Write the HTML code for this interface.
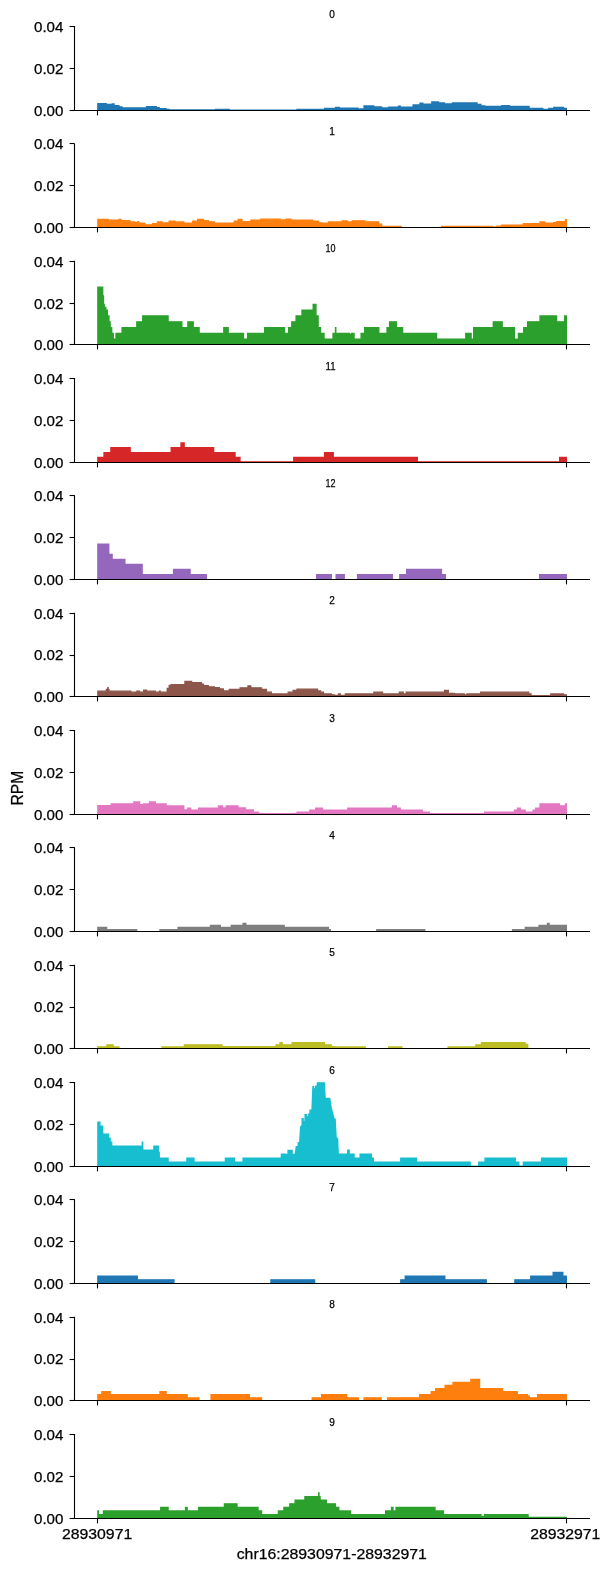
<!DOCTYPE html>
<html><head><meta charset="utf-8"><title>RPM tracks</title>
<style>html,body{margin:0;padding:0;background:#fff}svg{display:block}text{font-family:"Liberation Sans",sans-serif;fill:#000;stroke:#000;stroke-width:0.25px}</style></head><body><div style="width:611px;height:1571px;will-change:transform">
<svg width="611" height="1571" viewBox="0 0 611 1571">
<rect width="611" height="1571" fill="#fff"/>
<clipPath id="c0"><rect x="74" y="25.6" width="517" height="84.7"/></clipPath>
<path clip-path="url(#c0)" d="M97.9,110.3L97.9,103.6L106.18,103.6L106.18,104.4L112.29,104.4L112.29,104L114.04,104L114.04,105.6L118.95,105.6L118.95,107L121.9,107L121.9,108L146.66,108L146.66,106.8L156.27,106.8L156.27,107.8L159.21,107.8L159.21,108.8L166.09,108.8L166.09,109.5L169.03,109.5L169.03,109.9L215.6,109.9L215.6,109.4L229.13,109.4L229.13,110.2L297.11,110.2L297.11,109.4L324.6,109.4L324.6,108.4L335.6,108.4L335.6,107.5L339.31,107.5L339.31,108.1L357.97,108.1L357.97,109L364.08,109L364.08,105.9L373.68,105.9L373.68,106.9L381.54,106.9L381.54,107.9L388.63,107.9L388.63,107.1L398.45,107.1L398.45,106.1L400.19,106.1L400.19,107.1L413.18,107.1L413.18,104.9L420.05,104.9L420.05,103.1L422.78,103.1L422.78,104.1L431.84,104.1L431.84,102L438.49,102L438.49,102.9L444.38,102.9L444.38,103.9L452.46,103.9L452.46,102.9L476.99,102.9L476.99,104.5L480.91,104.5L480.91,106L484.84,106L484.84,106.5L501.75,106.5L501.75,105.7L509.39,105.7L509.39,106.5L529.03,106.5L529.03,108.4L542.78,108.4L542.78,109.4L548.89,109.4L548.89,108.4L553.8,108.4L553.8,107.5L563.4,107.5L563.4,108.5L566.3,108.5L566.3,110.3Z" fill="#1f77b4" stroke="#1f77b4" stroke-width="1.39"/>
<path d="M74.5,26.6V110.5H589.45" fill="none" stroke="#000" stroke-width="1.1" stroke-linecap="square"/>
<path d="M69.6,110.5H74.5" stroke="#000" stroke-width="1.1"/>
<text x="63.4" y="115.5" font-size="14.3" text-anchor="end" textLength="29.4" lengthAdjust="spacingAndGlyphs">0.00</text>
<path d="M69.6,68.5H74.5" stroke="#000" stroke-width="1.1"/>
<text x="63.4" y="73.5" font-size="14.3" text-anchor="end" textLength="29.4" lengthAdjust="spacingAndGlyphs">0.02</text>
<path d="M69.6,26.5H74.5" stroke="#000" stroke-width="1.1"/>
<text x="63.4" y="31.5" font-size="14.3" text-anchor="end" textLength="29.4" lengthAdjust="spacingAndGlyphs">0.04</text>
<path d="M97.5,110.5V115.4" stroke="#000" stroke-width="1.1"/>
<path d="M566.5,110.5V115.4" stroke="#000" stroke-width="1.1"/>
<text x="332.0" y="17.6" font-size="11.4" text-anchor="middle" textLength="5.6" lengthAdjust="spacingAndGlyphs">0</text>
<clipPath id="c1"><rect x="74" y="142.93" width="517" height="84.7"/></clipPath>
<path clip-path="url(#c1)" d="M97.9,227.63L97.9,219.33L108.15,219.33L108.15,220.23L119.17,220.23L119.17,219.33L120.91,219.33L120.91,220.63L129.75,220.63L129.75,222.03L134.66,222.03L134.66,222.63L137.83,222.63L137.83,221.63L138.59,221.63L138.59,223.23L144.48,223.23L144.48,224.83L152.56,224.83L152.56,223.63L157.47,223.63L157.47,222.03L162.16,222.03L162.16,223.03L169.25,223.03L169.25,221.23L174.92,221.23L174.92,222.03L183.76,222.03L183.76,223.23L192.82,223.23L192.82,221.23L197.73,221.23L197.73,219.33L203.4,219.33L203.4,220.63L208.31,220.63L208.31,222.03L214.4,222.03L214.4,223.23L234.26,223.23L234.26,221.23L238.19,221.23L238.19,219.33L241.9,219.33L241.9,221.63L250.95,221.63L250.95,220.23L260.77,220.23L260.77,219.13L280.19,219.13L280.19,220.03L286.3,220.03L286.3,219.13L291,219.13L291,220.23L312.6,220.23L312.6,221.23L318.49,221.23L318.49,222.83L321.44,222.83L321.44,223.23L328.53,223.23L328.53,222.03L342.47,222.03L342.47,221.03L347.17,221.03L347.17,222.03L352.29,222.03L352.29,220.83L364.84,220.83L364.84,221.83L378.59,221.83L378.59,224.13L381.54,224.13L381.54,226.33L401.18,226.33L401.18,227.63L441.66,227.63L441.66,226.33L492.7,226.33L492.7,227.13L496.84,227.13L496.84,226.13L501.75,226.13L501.75,225.23L523.36,225.23L523.36,223.63L540.05,223.63L540.05,222.03L544.74,222.03L544.74,223.23L553.8,223.23L553.8,222.63L556.75,222.63L556.75,221.63L565.58,221.63L565.58,219.73L566.3,219.73L566.3,227.63Z" fill="#ff7f0e" stroke="#ff7f0e" stroke-width="1.39"/>
<path d="M74.5,143.93V227.5H589.45" fill="none" stroke="#000" stroke-width="1.1" stroke-linecap="square"/>
<path d="M69.6,227.5H74.5" stroke="#000" stroke-width="1.1"/>
<text x="63.4" y="232.5" font-size="14.3" text-anchor="end" textLength="29.4" lengthAdjust="spacingAndGlyphs">0.00</text>
<path d="M69.6,185.5H74.5" stroke="#000" stroke-width="1.1"/>
<text x="63.4" y="190.5" font-size="14.3" text-anchor="end" textLength="29.4" lengthAdjust="spacingAndGlyphs">0.02</text>
<path d="M69.6,143.5H74.5" stroke="#000" stroke-width="1.1"/>
<text x="63.4" y="148.5" font-size="14.3" text-anchor="end" textLength="29.4" lengthAdjust="spacingAndGlyphs">0.04</text>
<path d="M97.5,227.5V232.4" stroke="#000" stroke-width="1.1"/>
<path d="M566.5,227.5V232.4" stroke="#000" stroke-width="1.1"/>
<text x="332.0" y="134.93" font-size="11.4" text-anchor="middle" textLength="5.6" lengthAdjust="spacingAndGlyphs">1</text>
<clipPath id="c2"><rect x="74" y="260.26" width="517" height="84.7"/></clipPath>
<path clip-path="url(#c2)" d="M97.9,344.96L97.9,287.16L102.65,287.16L102.65,295.83L103.43,295.83L103.43,304.5L104.22,304.5L104.22,307.39L105.79,307.39L105.79,310.28L107.36,310.28L107.36,316.06L108.93,316.06L108.93,321.84L110.11,321.84L110.11,327.62L111.68,327.62L111.68,333.4L113.25,333.4L113.25,339.18L116.03,339.18L116.03,333.4L122.11,333.4L122.11,327.62L136.84,327.62L136.84,321.84L142.74,321.84L142.74,316.06L168.05,316.06L168.05,321.84L181.8,321.84L181.8,327.62L187.91,327.62L187.91,321.84L193.19,321.84L193.19,327.62L199.08,327.62L199.08,333.4L223.85,333.4L223.85,327.62L228.15,327.62L228.15,333.4L243.47,333.4L243.47,339.18L247.61,339.18L247.61,333.4L264.7,333.4L264.7,327.62L284.51,327.62L284.51,333.4L288.66,333.4L288.66,327.62L291.8,327.62L291.8,321.84L296.12,321.84L296.12,316.06L302.02,316.06L302.02,310.28L313.21,310.28L313.21,304.5L315.94,304.5L315.94,316.06L318.1,316.06L318.1,327.62L320.46,327.62L320.46,333.4L323.99,333.4L323.99,339.18L333.05,339.18L333.05,333.4L335.54,333.4L335.54,327.62L335.79,327.62L335.79,333.4L349.52,333.4L349.52,334.56L351.7,334.56L351.7,333.4L354.04,333.4L354.04,339.18L361.13,339.18L361.13,333.4L364.67,333.4L364.67,327.62L378.79,327.62L378.79,333.4L387.06,333.4L387.06,327.62L389.61,327.62L389.61,321.84L396.27,321.84L396.27,327.62L402.55,327.62L402.55,333.4L436.53,333.4L436.53,339.18L465.81,339.18L465.81,333.4L471.09,333.4L471.09,339.18L473.67,339.18L473.67,327.62L493.31,327.62L493.31,321.84L502.13,321.84L502.13,327.62L514.3,327.62L514.3,339.18L518.45,339.18L518.45,333.4L523.75,333.4L523.75,327.62L527.68,327.62L527.68,321.84L540.05,321.84L540.05,316.06L556.53,316.06L556.53,321.84L564.6,321.84L564.6,316.06L566.3,316.06L566.3,344.96Z" fill="#2ca02c" stroke="#2ca02c" stroke-width="1.39"/>
<path d="M74.5,261.26V344.5H589.45" fill="none" stroke="#000" stroke-width="1.1" stroke-linecap="square"/>
<path d="M69.6,344.5H74.5" stroke="#000" stroke-width="1.1"/>
<text x="63.4" y="349.5" font-size="14.3" text-anchor="end" textLength="29.4" lengthAdjust="spacingAndGlyphs">0.00</text>
<path d="M69.6,303.5H74.5" stroke="#000" stroke-width="1.1"/>
<text x="63.4" y="308.5" font-size="14.3" text-anchor="end" textLength="29.4" lengthAdjust="spacingAndGlyphs">0.02</text>
<path d="M69.6,261.5H74.5" stroke="#000" stroke-width="1.1"/>
<text x="63.4" y="266.5" font-size="14.3" text-anchor="end" textLength="29.4" lengthAdjust="spacingAndGlyphs">0.04</text>
<path d="M97.5,344.5V349.4" stroke="#000" stroke-width="1.1"/>
<path d="M566.5,344.5V349.4" stroke="#000" stroke-width="1.1"/>
<text x="330.6" y="252.26" font-size="11.4" text-anchor="middle" textLength="10.0" lengthAdjust="spacingAndGlyphs">10</text>
<clipPath id="c3"><rect x="74" y="377.59" width="517" height="84.7"/></clipPath>
<path clip-path="url(#c3)" d="M97.9,462.29L97.9,457.44L104.05,457.44L104.05,452.59L110.92,452.59L110.92,447.74L130.14,447.74L130.14,452.59L171.21,452.59L171.21,447.74L181.03,447.74L181.03,442.89L184.15,442.89L184.15,447.74L213.61,447.74L213.61,452.59L235.02,452.59L235.02,457.44L239.93,457.44L239.93,461.84L293.77,461.84L293.77,457.44L324.6,457.44L324.6,452.59L333.22,452.59L333.22,457.44L417.28,457.44L417.28,461.84L559.69,461.84L559.69,457.44L566.3,457.44L566.3,462.29Z" fill="#d62728" stroke="#d62728" stroke-width="1.39"/>
<path d="M74.5,378.59V462.5H589.45" fill="none" stroke="#000" stroke-width="1.1" stroke-linecap="square"/>
<path d="M69.6,462.5H74.5" stroke="#000" stroke-width="1.1"/>
<text x="63.4" y="467.5" font-size="14.3" text-anchor="end" textLength="29.4" lengthAdjust="spacingAndGlyphs">0.00</text>
<path d="M69.6,420.5H74.5" stroke="#000" stroke-width="1.1"/>
<text x="63.4" y="425.5" font-size="14.3" text-anchor="end" textLength="29.4" lengthAdjust="spacingAndGlyphs">0.02</text>
<path d="M69.6,378.5H74.5" stroke="#000" stroke-width="1.1"/>
<text x="63.4" y="383.5" font-size="14.3" text-anchor="end" textLength="29.4" lengthAdjust="spacingAndGlyphs">0.04</text>
<path d="M97.5,462.5V467.4" stroke="#000" stroke-width="1.1"/>
<path d="M566.5,462.5V467.4" stroke="#000" stroke-width="1.1"/>
<text x="330.6" y="369.59" font-size="11.4" text-anchor="middle" textLength="10.0" lengthAdjust="spacingAndGlyphs">11</text>
<clipPath id="c4"><rect x="74" y="494.92" width="517" height="84.7"/></clipPath>
<path clip-path="url(#c4)" d="M97.9,579.62L97.9,544.27L108.74,544.27L108.74,554.37L112.08,554.37L112.08,559.42L124.84,559.42L124.84,564.47L142.13,564.47L142.13,574.57L173.57,574.57L173.57,569.52L190.05,569.52L190.05,574.57L206.35,574.57L206.35,579.62L316.75,579.62L316.75,574.57L331.26,574.57L331.26,579.62L336.19,579.62L336.19,574.57L344.22,574.57L344.22,579.62L357.6,579.62L357.6,574.57L392.34,574.57L392.34,579.62L399.82,579.62L399.82,574.57L406.7,574.57L406.7,569.52L441.44,569.52L441.44,574.57L445.37,574.57L445.37,579.62L539.66,579.62L539.66,574.57L566.3,574.57L566.3,579.62Z" fill="#9467bd" stroke="#9467bd" stroke-width="1.39"/>
<path d="M74.5,495.92V579.5H589.45" fill="none" stroke="#000" stroke-width="1.1" stroke-linecap="square"/>
<path d="M69.6,579.5H74.5" stroke="#000" stroke-width="1.1"/>
<text x="63.4" y="584.5" font-size="14.3" text-anchor="end" textLength="29.4" lengthAdjust="spacingAndGlyphs">0.00</text>
<path d="M69.6,537.5H74.5" stroke="#000" stroke-width="1.1"/>
<text x="63.4" y="542.5" font-size="14.3" text-anchor="end" textLength="29.4" lengthAdjust="spacingAndGlyphs">0.02</text>
<path d="M69.6,495.5H74.5" stroke="#000" stroke-width="1.1"/>
<text x="63.4" y="500.5" font-size="14.3" text-anchor="end" textLength="29.4" lengthAdjust="spacingAndGlyphs">0.04</text>
<path d="M97.5,579.5V584.4" stroke="#000" stroke-width="1.1"/>
<path d="M566.5,579.5V584.4" stroke="#000" stroke-width="1.1"/>
<text x="330.6" y="486.92" font-size="11.4" text-anchor="middle" textLength="10.0" lengthAdjust="spacingAndGlyphs">12</text>
<clipPath id="c5"><rect x="74" y="612.25" width="517" height="84.7"/></clipPath>
<path clip-path="url(#c5)" d="M97.9,696.95L97.9,691.15L106.4,691.15L106.4,689.45L107.78,689.45L107.78,687.65L108.03,687.65L108.03,689.45L108.93,689.45L108.93,691.15L130.73,691.15L130.73,692.15L136.84,692.15L136.84,691.15L139.57,691.15L139.57,692.15L143.72,692.15L143.72,690.15L146.45,690.15L146.45,691.15L155.28,691.15L155.28,692.15L159.43,692.15L159.43,691.15L160.19,691.15L160.19,692.15L167.29,692.15L167.29,688.45L169.25,688.45L169.25,685.45L171.21,685.45L171.21,684.65L184.96,684.65L184.96,681.35L191.62,681.35L191.62,682.75L201.44,682.75L201.44,684.25L203.4,684.25L203.4,685.65L208.31,685.65L208.31,687.05L214.4,687.05L214.4,687.65L219.31,687.65L219.31,689.05L223.24,689.05L223.24,690.95L229.35,690.95L229.35,689.55L240.15,689.55L240.15,687.85L248.01,687.85L248.01,686.05L250.73,686.05L250.73,687.85L261.54,687.85L261.54,689.55L266.45,689.55L266.45,692.15L271.36,692.15L271.36,693.95L288.27,693.95L288.27,692.15L293.18,692.15L293.18,690.55L297.11,690.55L297.11,689.15L317.51,689.15L317.51,690.95L320.46,690.95L320.46,692.15L323.4,692.15L323.4,693.95L331.26,693.95L331.26,694.85L334.4,694.85L334.4,695.45L338.55,695.45L338.55,693.95L340.29,693.95L340.29,695.45L345.42,695.45L345.42,693.95L373.9,693.95L373.9,692.15L382.52,692.15L382.52,693.95L399.43,693.95L399.43,692.15L403.14,692.15L403.14,693.95L406.3,693.95L406.3,692.15L444.6,692.15L444.6,690.55L448.31,690.55L448.31,693.55L454.4,693.55L454.4,693.95L464.22,693.95L464.22,694.85L466.99,694.85L466.99,693.95L480.74,693.95L480.74,692.15L528.64,692.15L528.64,693.95L531,693.95L531,695.65L550.85,695.65L550.85,693.95L563.4,693.95L563.4,694.85L566.3,694.85L566.3,696.95Z" fill="#8c564b" stroke="#8c564b" stroke-width="1.39"/>
<path d="M74.5,613.25V696.5H589.45" fill="none" stroke="#000" stroke-width="1.1" stroke-linecap="square"/>
<path d="M69.6,696.5H74.5" stroke="#000" stroke-width="1.1"/>
<text x="63.4" y="701.5" font-size="14.3" text-anchor="end" textLength="29.4" lengthAdjust="spacingAndGlyphs">0.00</text>
<path d="M69.6,655.5H74.5" stroke="#000" stroke-width="1.1"/>
<text x="63.4" y="659.5" font-size="14.3" text-anchor="end" textLength="29.4" lengthAdjust="spacingAndGlyphs">0.02</text>
<path d="M69.6,613.5H74.5" stroke="#000" stroke-width="1.1"/>
<text x="63.4" y="618.5" font-size="14.3" text-anchor="end" textLength="29.4" lengthAdjust="spacingAndGlyphs">0.04</text>
<path d="M97.5,696.5V701.4" stroke="#000" stroke-width="1.1"/>
<path d="M566.5,696.5V701.4" stroke="#000" stroke-width="1.1"/>
<text x="332.0" y="604.25" font-size="11.4" text-anchor="middle" textLength="5.6" lengthAdjust="spacingAndGlyphs">2</text>
<clipPath id="c6"><rect x="74" y="729.58" width="517" height="84.7"/></clipPath>
<path clip-path="url(#c6)" d="M97.9,814.28L97.9,805.78L111.31,805.78L111.31,803.98L133.9,803.98L133.9,801.98L139.57,801.98L139.57,804.78L143.72,804.78L143.72,803.98L149.61,803.98L149.61,801.98L155.28,801.98L155.28,803.98L166.09,803.98L166.09,805.98L183.76,805.98L183.76,809.88L187.91,809.88L187.91,808.28L190.64,808.28L190.64,810.28L198.71,810.28L198.71,808.28L218.55,808.28L218.55,805.98L222.26,805.98L222.26,807.88L226.4,807.88L226.4,805.98L237.97,805.98L237.97,807.88L245.43,807.88L245.43,809.88L253.29,809.88L253.29,812.18L258.59,812.18L258.59,813.78L297.11,813.78L297.11,812.18L309.87,812.18L309.87,810.28L315.76,810.28L315.76,808.28L322.42,808.28L322.42,810.28L347.78,810.28L347.78,808.28L392.56,808.28L392.56,805.98L396.27,805.98L396.27,808.28L400.19,808.28L400.19,810.28L422.39,810.28L422.39,812.18L429.26,812.18L429.26,813.78L484.67,813.78L484.67,812.18L514.52,812.18L514.52,810.28L517.47,810.28L517.47,808.28L520.19,808.28L520.19,810.28L525.1,810.28L525.1,812.18L533.18,812.18L533.18,810.28L535.73,810.28L535.73,808.28L540.05,808.28L540.05,803.98L559.47,803.98L559.47,805.98L565.58,805.98L565.58,803.98L566.3,803.98L566.3,814.28Z" fill="#e377c2" stroke="#e377c2" stroke-width="1.39"/>
<path d="M74.5,730.58V814.5H589.45" fill="none" stroke="#000" stroke-width="1.1" stroke-linecap="square"/>
<path d="M69.6,814.5H74.5" stroke="#000" stroke-width="1.1"/>
<text x="63.4" y="819.5" font-size="14.3" text-anchor="end" textLength="29.4" lengthAdjust="spacingAndGlyphs">0.00</text>
<path d="M69.6,772.5H74.5" stroke="#000" stroke-width="1.1"/>
<text x="63.4" y="777.5" font-size="14.3" text-anchor="end" textLength="29.4" lengthAdjust="spacingAndGlyphs">0.02</text>
<path d="M69.6,730.5H74.5" stroke="#000" stroke-width="1.1"/>
<text x="63.4" y="735.5" font-size="14.3" text-anchor="end" textLength="29.4" lengthAdjust="spacingAndGlyphs">0.04</text>
<path d="M97.5,814.5V819.4" stroke="#000" stroke-width="1.1"/>
<path d="M566.5,814.5V819.4" stroke="#000" stroke-width="1.1"/>
<text x="332.0" y="721.58" font-size="11.4" text-anchor="middle" textLength="5.6" lengthAdjust="spacingAndGlyphs">3</text>
<clipPath id="c7"><rect x="74" y="846.91" width="517" height="84.7"/></clipPath>
<path clip-path="url(#c7)" d="M97.9,931.61L97.9,927.55L106.58,927.55L106.58,929.58L136.63,929.58L136.63,931.61L160.02,931.61L160.02,929.58L178.09,929.58L178.09,927.55L210.49,927.55L210.49,925.52L220.29,925.52L220.29,927.55L231.31,927.55L231.31,925.52L243.1,925.52L243.1,923.49L245.82,923.49L245.82,925.52L284.12,925.52L284.12,927.55L328.31,927.55L328.31,929.58L330.28,929.58L330.28,931.61L376.84,931.61L376.84,929.58L424.74,929.58L424.74,931.61L512.56,931.61L512.56,929.58L525.32,929.58L525.32,927.55L539.07,927.55L539.07,925.52L547.51,925.52L547.51,923.49L549.06,923.49L549.06,925.52L566.3,925.52L566.3,931.61Z" fill="#7f7f7f" stroke="#7f7f7f" stroke-width="1.39"/>
<path d="M74.5,847.91V931.5H589.45" fill="none" stroke="#000" stroke-width="1.1" stroke-linecap="square"/>
<path d="M69.6,931.5H74.5" stroke="#000" stroke-width="1.1"/>
<text x="63.4" y="936.5" font-size="14.3" text-anchor="end" textLength="29.4" lengthAdjust="spacingAndGlyphs">0.00</text>
<path d="M69.6,889.5H74.5" stroke="#000" stroke-width="1.1"/>
<text x="63.4" y="894.5" font-size="14.3" text-anchor="end" textLength="29.4" lengthAdjust="spacingAndGlyphs">0.02</text>
<path d="M69.6,847.5H74.5" stroke="#000" stroke-width="1.1"/>
<text x="63.4" y="852.5" font-size="14.3" text-anchor="end" textLength="29.4" lengthAdjust="spacingAndGlyphs">0.04</text>
<path d="M97.5,931.5V936.4" stroke="#000" stroke-width="1.1"/>
<path d="M566.5,931.5V936.4" stroke="#000" stroke-width="1.1"/>
<text x="332.0" y="838.91" font-size="11.4" text-anchor="middle" textLength="5.6" lengthAdjust="spacingAndGlyphs">4</text>
<clipPath id="c8"><rect x="74" y="964.24" width="517" height="84.7"/></clipPath>
<path clip-path="url(#c8)" d="M97.9,1048.94L97.9,1046.89L106.99,1046.89L106.99,1044.84L113.06,1044.84L113.06,1046.89L118.95,1046.89L118.95,1048.94L161.98,1048.94L161.98,1046.89L184.37,1046.89L184.37,1044.84L221.86,1044.84L221.86,1046.68L276.09,1046.68L276.09,1044.84L280.02,1044.84L280.02,1042.79L282.16,1042.79L282.16,1044.84L292.2,1044.84L292.2,1042.79L324.38,1042.79L324.38,1044.84L331.26,1044.84L331.26,1046.68L334.4,1046.68L334.4,1046.89L365.23,1046.89L365.23,1048.94L388.63,1048.94L388.63,1046.89L401.76,1046.89L401.76,1048.94L448.14,1048.94L448.14,1046.89L475.83,1046.89L475.83,1044.84L481.52,1044.84L481.52,1042.59L525.1,1042.59L525.1,1044.43L527.66,1044.43L527.66,1048.94L566.3,1048.94L566.3,1048.94Z" fill="#bcbd22" stroke="#bcbd22" stroke-width="1.39"/>
<path d="M74.5,965.24V1048.5H589.45" fill="none" stroke="#000" stroke-width="1.1" stroke-linecap="square"/>
<path d="M69.6,1048.5H74.5" stroke="#000" stroke-width="1.1"/>
<text x="63.4" y="1053.5" font-size="14.3" text-anchor="end" textLength="29.4" lengthAdjust="spacingAndGlyphs">0.00</text>
<path d="M69.6,1007.5H74.5" stroke="#000" stroke-width="1.1"/>
<text x="63.4" y="1011.5" font-size="14.3" text-anchor="end" textLength="29.4" lengthAdjust="spacingAndGlyphs">0.02</text>
<path d="M69.6,965.5H74.5" stroke="#000" stroke-width="1.1"/>
<text x="63.4" y="970.5" font-size="14.3" text-anchor="end" textLength="29.4" lengthAdjust="spacingAndGlyphs">0.04</text>
<path d="M97.5,1048.5V1053.4" stroke="#000" stroke-width="1.1"/>
<path d="M566.5,1048.5V1053.4" stroke="#000" stroke-width="1.1"/>
<text x="332.0" y="956.24" font-size="11.4" text-anchor="middle" textLength="5.6" lengthAdjust="spacingAndGlyphs">5</text>
<clipPath id="c9"><rect x="74" y="1081.57" width="517" height="84.7"/></clipPath>
<path clip-path="url(#c9)" d="M97.9,1166.27L97.9,1122.27L99.9,1122.27L99.9,1126.27L102.65,1126.27L102.65,1134.27L108.54,1134.27L108.54,1138.27L110.11,1138.27L110.11,1142.27L111.68,1142.27L111.68,1146.27L142.34,1146.27L142.34,1142.27L142.71,1142.27L142.71,1150.27L153.93,1150.27L153.93,1146.27L158.23,1146.27L158.23,1152.27L159.21,1152.27L159.21,1158.27L168.05,1158.27L168.05,1162.27L186.93,1162.27L186.93,1158.27L193.97,1158.27L193.97,1162.27L225.42,1162.27L225.42,1158.27L234.43,1158.27L234.43,1162.27L243.1,1162.27L243.1,1158.27L281.39,1158.27L281.39,1154.27L285,1154.27L285,1154.37L288.1,1154.37L288.1,1150.47L292.1,1150.47L292.1,1154.37L295.3,1154.37L296.3,1146.57L298.3,1146.57L298.3,1142.57L299.7,1142.57L300.7,1126.87L302.2,1125.37L302.2,1118.77L303.7,1118.77L303.7,1121.97L304.6,1121.97L304.6,1114.77L307.1,1114.77L307.1,1117.57L308.1,1117.57L308.1,1114.07L310,1114.07L310,1110.17L312,1110.17L313,1086.57L314,1086.57L314,1089.57L315,1089.57L315,1086.17L317.4,1086.17L317.4,1082.87L324.3,1082.87L325.1,1098.37L329.7,1098.37L331.2,1108.27L333.1,1115.07L334.1,1119.07L335.1,1119.07L336.1,1137.67L337.6,1138.67L338.2,1154.37L338.2,1154.27L347.78,1154.27L347.78,1150.27L349.13,1150.27L349.13,1154.27L354.04,1154.27L354.04,1158.27L360.15,1158.27L360.15,1154.27L371.32,1154.27L371.32,1158.27L373.29,1158.27L373.29,1162.27L400.8,1162.27L400.8,1158.27L416.49,1158.27L416.49,1162.27L470.11,1162.27L470.11,1166.27L478.78,1166.27L478.78,1162.27L485.06,1162.27L485.06,1158.27L515.28,1158.27L515.28,1162.27L518.82,1162.27L518.82,1166.27L523.36,1166.27L523.36,1162.27L541.62,1162.27L541.62,1158.27L566.3,1158.27L566.3,1166.27Z" fill="#17becf" stroke="#17becf" stroke-width="1.39"/>
<path d="M304.15,1120.77V1113.77" stroke="#fff" stroke-width="0.7" fill="none"/>
<path d="M307.6,1116.27V1113.27" stroke="#fff" stroke-width="0.7" fill="none"/>
<path d="M314.5,1088.27V1085.27" stroke="#fff" stroke-width="0.7" fill="none"/>
<path d="M74.5,1082.57V1166.5H589.45" fill="none" stroke="#000" stroke-width="1.1" stroke-linecap="square"/>
<path d="M69.6,1166.5H74.5" stroke="#000" stroke-width="1.1"/>
<text x="63.4" y="1171.5" font-size="14.3" text-anchor="end" textLength="29.4" lengthAdjust="spacingAndGlyphs">0.00</text>
<path d="M69.6,1124.5H74.5" stroke="#000" stroke-width="1.1"/>
<text x="63.4" y="1129.5" font-size="14.3" text-anchor="end" textLength="29.4" lengthAdjust="spacingAndGlyphs">0.02</text>
<path d="M69.6,1082.5H74.5" stroke="#000" stroke-width="1.1"/>
<text x="63.4" y="1087.5" font-size="14.3" text-anchor="end" textLength="29.4" lengthAdjust="spacingAndGlyphs">0.04</text>
<path d="M97.5,1166.5V1171.4" stroke="#000" stroke-width="1.1"/>
<path d="M566.5,1166.5V1171.4" stroke="#000" stroke-width="1.1"/>
<text x="332.0" y="1073.57" font-size="11.4" text-anchor="middle" textLength="5.6" lengthAdjust="spacingAndGlyphs">6</text>
<clipPath id="c10"><rect x="74" y="1198.9" width="517" height="84.7"/></clipPath>
<path clip-path="url(#c10)" d="M97.9,1283.6L97.9,1276.1L137.22,1276.1L137.22,1279.85L173.94,1279.85L173.94,1283.6L270.98,1283.6L270.98,1279.85L314.56,1279.85L314.56,1283.6L400.8,1283.6L400.8,1279.85L405.32,1279.85L405.32,1276.1L444.78,1276.1L444.78,1279.85L486.22,1279.85L486.22,1283.6L514.91,1283.6L514.91,1279.85L530.82,1279.85L530.82,1276.1L553.21,1276.1L553.21,1272.35L562.81,1272.35L562.81,1276.1L566.3,1276.1L566.3,1283.6Z" fill="#1f77b4" stroke="#1f77b4" stroke-width="1.39"/>
<path d="M74.5,1199.9V1283.5H589.45" fill="none" stroke="#000" stroke-width="1.1" stroke-linecap="square"/>
<path d="M69.6,1283.5H74.5" stroke="#000" stroke-width="1.1"/>
<text x="63.4" y="1288.5" font-size="14.3" text-anchor="end" textLength="29.4" lengthAdjust="spacingAndGlyphs">0.00</text>
<path d="M69.6,1241.5H74.5" stroke="#000" stroke-width="1.1"/>
<text x="63.4" y="1246.5" font-size="14.3" text-anchor="end" textLength="29.4" lengthAdjust="spacingAndGlyphs">0.02</text>
<path d="M69.6,1199.5H74.5" stroke="#000" stroke-width="1.1"/>
<text x="63.4" y="1204.5" font-size="14.3" text-anchor="end" textLength="29.4" lengthAdjust="spacingAndGlyphs">0.04</text>
<path d="M97.5,1283.5V1288.4" stroke="#000" stroke-width="1.1"/>
<path d="M566.5,1283.5V1288.4" stroke="#000" stroke-width="1.1"/>
<text x="332.0" y="1190.9" font-size="11.4" text-anchor="middle" textLength="5.6" lengthAdjust="spacingAndGlyphs">7</text>
<clipPath id="c11"><rect x="74" y="1316.23" width="517" height="84.7"/></clipPath>
<path clip-path="url(#c11)" d="M97.9,1400.93L97.9,1394.77L101.88,1394.77L101.88,1391.69L110.11,1391.69L110.11,1394.77L160.02,1394.77L160.02,1391.69L166.09,1391.69L166.09,1394.77L187.1,1394.77L187.1,1397.85L198.88,1397.85L198.88,1400.93L211.08,1400.93L211.08,1394.77L249.36,1394.77L249.36,1397.85L261.54,1397.85L261.54,1400.93L312.23,1400.93L312.23,1397.85L321.66,1397.85L321.66,1394.77L346.58,1394.77L346.58,1397.85L358.36,1397.85L358.36,1400.93L364.08,1400.93L364.08,1397.85L381.14,1397.85L381.14,1400.93L387.65,1400.93L387.65,1397.85L419.66,1397.85L419.66,1394.77L431.25,1394.77L431.25,1391.69L435.76,1391.69L435.76,1388.61L445.19,1388.61L445.19,1385.53L453.05,1385.53L453.05,1382.45L470.92,1382.45L470.92,1379.37L479.54,1379.37L479.54,1388.61L502.52,1388.61L502.52,1391.69L517.25,1391.69L517.25,1394.77L527.46,1394.77L527.46,1396.31L529.23,1396.31L529.23,1397.85L537.69,1397.85L537.69,1394.77L566.3,1394.77L566.3,1400.93Z" fill="#ff7f0e" stroke="#ff7f0e" stroke-width="1.39"/>
<path d="M74.5,1317.23V1400.5H589.45" fill="none" stroke="#000" stroke-width="1.1" stroke-linecap="square"/>
<path d="M69.6,1400.5H74.5" stroke="#000" stroke-width="1.1"/>
<text x="63.4" y="1405.5" font-size="14.3" text-anchor="end" textLength="29.4" lengthAdjust="spacingAndGlyphs">0.00</text>
<path d="M69.6,1359.5H74.5" stroke="#000" stroke-width="1.1"/>
<text x="63.4" y="1363.5" font-size="14.3" text-anchor="end" textLength="29.4" lengthAdjust="spacingAndGlyphs">0.02</text>
<path d="M69.6,1317.5H74.5" stroke="#000" stroke-width="1.1"/>
<text x="63.4" y="1322.5" font-size="14.3" text-anchor="end" textLength="29.4" lengthAdjust="spacingAndGlyphs">0.04</text>
<path d="M97.5,1400.5V1405.4" stroke="#000" stroke-width="1.1"/>
<path d="M566.5,1400.5V1405.4" stroke="#000" stroke-width="1.1"/>
<text x="332.0" y="1308.23" font-size="11.4" text-anchor="middle" textLength="5.6" lengthAdjust="spacingAndGlyphs">8</text>
<clipPath id="c12"><rect x="74" y="1433.56" width="517" height="84.7"/></clipPath>
<path clip-path="url(#c12)" d="M97.9,1518.26L97.9,1511.06L98.33,1511.06L98.33,1514.66L103.46,1514.66L103.46,1511.06L160.8,1511.06L160.8,1507.46L168.05,1507.46L168.05,1511.06L185.55,1511.06L185.55,1507.46L187.1,1507.46L187.1,1511.06L198.71,1511.06L198.71,1507.46L224.44,1507.46L224.44,1503.86L236.99,1503.86L236.99,1507.46L258,1507.46L258,1511.06L261.54,1511.06L261.54,1514.66L278.45,1514.66L278.45,1511.06L283.95,1511.06L283.95,1507.46L289.84,1507.46L289.84,1503.86L295.14,1503.86L295.14,1500.26L304.96,1500.26L304.96,1496.66L318.71,1496.66L318.71,1493.06L318.96,1493.06L318.96,1496.66L320.06,1496.66L320.06,1500.26L326.35,1500.26L326.35,1503.86L335.38,1503.86L335.38,1507.46L338.72,1507.46L338.72,1511.06L350.5,1511.06L350.5,1514.66L385.68,1514.66L385.68,1511.06L391.57,1511.06L391.57,1507.46L392.93,1507.46L392.93,1511.06L396.09,1511.06L396.09,1507.46L434.96,1507.46L434.96,1511.06L443.4,1511.06L443.4,1514.66L480.91,1514.66L480.91,1516.46L484.67,1516.46L484.67,1514.66L528.05,1514.66L528.05,1517.54L566.3,1517.54L566.3,1518.26Z" fill="#2ca02c" stroke="#2ca02c" stroke-width="1.39"/>
<path d="M74.5,1434.56V1518.5H589.45" fill="none" stroke="#000" stroke-width="1.1" stroke-linecap="square"/>
<path d="M69.6,1518.5H74.5" stroke="#000" stroke-width="1.1"/>
<text x="63.4" y="1523.5" font-size="14.3" text-anchor="end" textLength="29.4" lengthAdjust="spacingAndGlyphs">0.00</text>
<path d="M69.6,1476.5H74.5" stroke="#000" stroke-width="1.1"/>
<text x="63.4" y="1481.5" font-size="14.3" text-anchor="end" textLength="29.4" lengthAdjust="spacingAndGlyphs">0.02</text>
<path d="M69.6,1434.5H74.5" stroke="#000" stroke-width="1.1"/>
<text x="63.4" y="1439.5" font-size="14.3" text-anchor="end" textLength="29.4" lengthAdjust="spacingAndGlyphs">0.04</text>
<path d="M97.5,1518.5V1523.4" stroke="#000" stroke-width="1.1"/>
<path d="M566.5,1518.5V1523.4" stroke="#000" stroke-width="1.1"/>
<text x="332.0" y="1425.56" font-size="11.4" text-anchor="middle" textLength="5.6" lengthAdjust="spacingAndGlyphs">9</text>
<text x="97.1" y="1539.2" font-size="14.3" text-anchor="middle" textLength="70.2" lengthAdjust="spacingAndGlyphs">28930971</text>
<text x="565.25" y="1539.2" font-size="14.3" text-anchor="middle" textLength="70.2" lengthAdjust="spacingAndGlyphs">28932971</text>
<text x="331.8" y="1558.9" font-size="14.4" text-anchor="middle" textLength="190.2" lengthAdjust="spacingAndGlyphs">chr16:28930971-28932971</text>
<text transform="translate(23.3,788.1) rotate(-90)" font-size="16.6" text-anchor="middle" textLength="34.7" lengthAdjust="spacingAndGlyphs">RPM</text>
</svg></div></body></html>
